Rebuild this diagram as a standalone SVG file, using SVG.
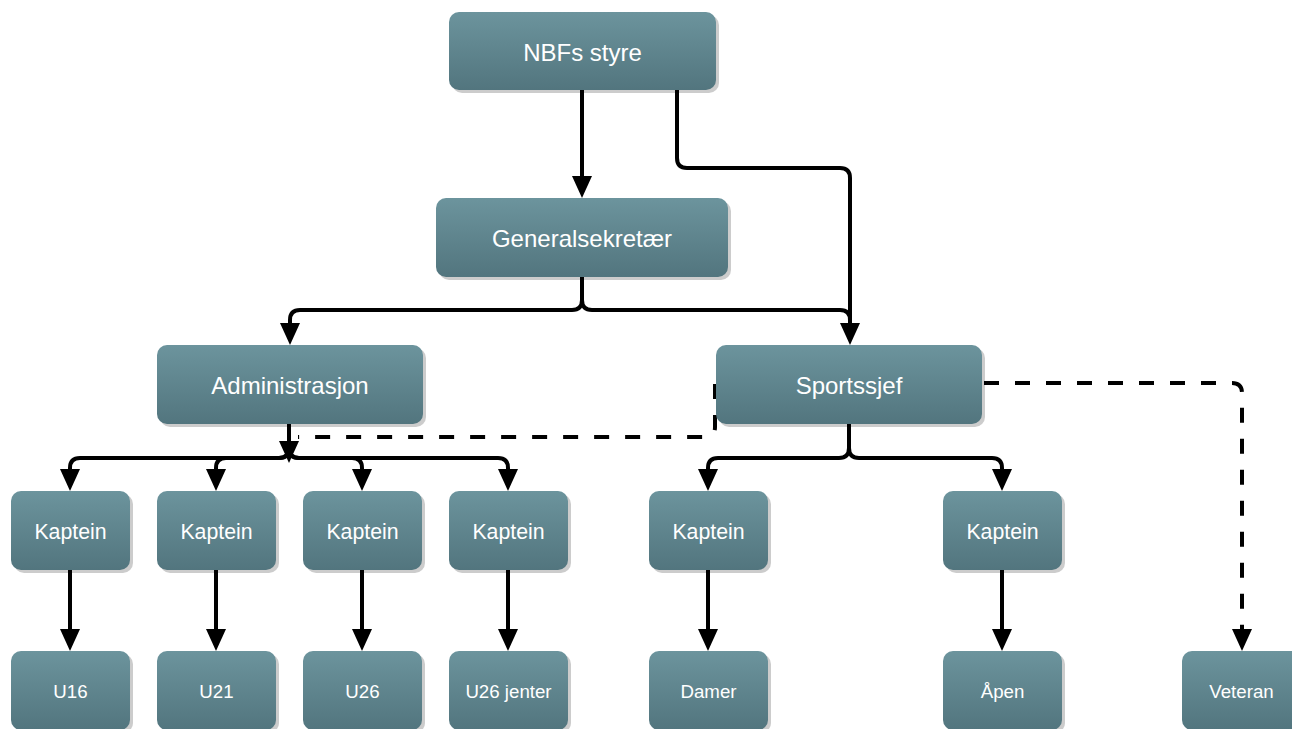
<svg xmlns="http://www.w3.org/2000/svg" width="1292" height="729" viewBox="0 0 1292 729">
<style>
.box{fill:url(#g)}
.sh{fill:#000;opacity:0.2}
.t{fill:#fff;font-family:"Liberation Sans",Arial,sans-serif;text-anchor:middle}
.big{font-size:24px}
.mid{font-size:21.3px}
.small{font-size:18.7px}
.c{fill:none;stroke:#000;stroke-width:4}
.d{fill:none;stroke:#000;stroke-width:4;stroke-dasharray:15 16}
</style>
<defs>
<linearGradient id="g" x1="0" y1="0" x2="0" y2="1">
<stop offset="0" stop-color="#6c949d"/>
<stop offset="1" stop-color="#52757e"/>
</linearGradient>
<marker id="a" viewBox="0 0 22 20" refX="0" refY="10" markerWidth="22" markerHeight="20" markerUnits="userSpaceOnUse" orient="auto">
<path d="M0,0 L22,10 L0,20 Z" fill="#000"/>
</marker>
</defs>
<rect width="1292" height="729" fill="#fff"/>

<g id="connectors">
<path class="c" d="M582,90 V176" marker-end="url(#a)"/>
<path class="c" d="M677,90 V158 Q677,168 687,168 H840 Q850,168 850,178 V323" marker-end="url(#a)"/>
<path class="c" d="M582,277 V300 Q582,310 572,310 H300 Q290,310 290,320 V323" marker-end="url(#a)"/>
<path class="c" d="M582,300 Q582,310 592,310 H840 Q850,310 850,320 V323"/>
<path class="c" d="M289,424 V441" marker-end="url(#a)"/>
<path class="c" d="M289,448 Q289,458 279,458 H80 Q70,458 70,468 V469" marker-end="url(#a)"/>
<path class="c" d="M289,448 Q289,458 279,458 H226 Q216,458 216,468 V469" marker-end="url(#a)"/>
<path class="c" d="M289,448 Q289,458 299,458 H352 Q362,458 362,468 V469" marker-end="url(#a)"/>
<path class="c" d="M289,448 Q289,458 299,458 H498 Q508,458 508,468 V469" marker-end="url(#a)"/>
<path class="c" d="M849,424 V448 Q849,458 839,458 H718 Q708,458 708,468 V469" marker-end="url(#a)"/>
<path class="c" d="M849,448 Q849,458 859,458 H992 Q1002,458 1002,468 V469" marker-end="url(#a)"/>
<path class="c" d="M70,570 V629" marker-end="url(#a)"/>
<path class="c" d="M216,570 V629" marker-end="url(#a)"/>
<path class="c" d="M362,570 V629" marker-end="url(#a)"/>
<path class="c" d="M508,570 V629" marker-end="url(#a)"/>
<path class="c" d="M708,570 V629" marker-end="url(#a)"/>
<path class="c" d="M1002,570 V629" marker-end="url(#a)"/>
<path class="d" d="M984,383 H1232 Q1242,383 1242,393 V629" marker-end="url(#a)"/>
<path class="d" d="M715,384 V427 Q715,437 705,437 H298"/>
</g>

<g id="n-nbf"><rect class="sh" x="452" y="15" width="267" height="78" rx="10"/><rect class="box" x="449" y="12" width="267" height="78" rx="10"/><text class="t big" x="582.5" y="61">NBFs styre</text></g>
<g id="n-gen"><rect class="sh" x="439" y="201" width="292" height="79" rx="10"/><rect class="box" x="436" y="198" width="292" height="79" rx="10"/><text class="t big" x="582" y="247">Generalsekretær</text></g>
<g id="n-admin"><rect class="sh" x="160" y="348" width="266" height="79" rx="10"/><rect class="box" x="157" y="345" width="266" height="79" rx="10"/><text class="t big" x="290" y="394">Administrasjon</text></g>
<g id="n-sport"><rect class="sh" x="719" y="348" width="266" height="79" rx="10"/><rect class="box" x="716" y="345" width="266" height="79" rx="10"/><text class="t big" x="849" y="394">Sportssjef</text></g>

<g id="n-k1"><rect class="sh" x="14" y="494" width="119" height="79" rx="10"/><rect class="box" x="11" y="491" width="119" height="79" rx="10"/><text class="t mid" x="70.5" y="539">Kaptein</text></g>
<g id="n-k2"><rect class="sh" x="160" y="494" width="119" height="79" rx="10"/><rect class="box" x="157" y="491" width="119" height="79" rx="10"/><text class="t mid" x="216.5" y="539">Kaptein</text></g>
<g id="n-k3"><rect class="sh" x="306" y="494" width="119" height="79" rx="10"/><rect class="box" x="303" y="491" width="119" height="79" rx="10"/><text class="t mid" x="362.5" y="539">Kaptein</text></g>
<g id="n-k4"><rect class="sh" x="452" y="494" width="119" height="79" rx="10"/><rect class="box" x="449" y="491" width="119" height="79" rx="10"/><text class="t mid" x="508.5" y="539">Kaptein</text></g>
<g id="n-k5"><rect class="sh" x="652" y="494" width="119" height="79" rx="10"/><rect class="box" x="649" y="491" width="119" height="79" rx="10"/><text class="t mid" x="708.5" y="539">Kaptein</text></g>
<g id="n-k6"><rect class="sh" x="946" y="494" width="119" height="79" rx="10"/><rect class="box" x="943" y="491" width="119" height="79" rx="10"/><text class="t mid" x="1002.5" y="539">Kaptein</text></g>

<g id="n-u16"><rect class="sh" x="14" y="654" width="119" height="79" rx="10"/><rect class="box" x="11" y="651" width="119" height="79" rx="10"/><text class="t small" x="70.5" y="698">U16</text></g>
<g id="n-u21"><rect class="sh" x="160" y="654" width="119" height="79" rx="10"/><rect class="box" x="157" y="651" width="119" height="79" rx="10"/><text class="t small" x="216.5" y="698">U21</text></g>
<g id="n-u26"><rect class="sh" x="306" y="654" width="119" height="79" rx="10"/><rect class="box" x="303" y="651" width="119" height="79" rx="10"/><text class="t small" x="362.5" y="698">U26</text></g>
<g id="n-u26j"><rect class="sh" x="452" y="654" width="119" height="79" rx="10"/><rect class="box" x="449" y="651" width="119" height="79" rx="10"/><text class="t small" x="508.5" y="698">U26 jenter</text></g>
<g id="n-damer"><rect class="sh" x="652" y="654" width="119" height="79" rx="10"/><rect class="box" x="649" y="651" width="119" height="79" rx="10"/><text class="t small" x="708.5" y="698">Damer</text></g>
<g id="n-apen"><rect class="sh" x="946" y="654" width="119" height="79" rx="10"/><rect class="box" x="943" y="651" width="119" height="79" rx="10"/><text class="t small" x="1002.5" y="698">Åpen</text></g>
<g id="n-veteran"><rect class="sh" x="1185" y="654" width="119" height="79" rx="10"/><rect class="box" x="1182" y="651" width="119" height="79" rx="10"/><text class="t small" x="1241.5" y="698">Veteran</text></g>
</svg>
